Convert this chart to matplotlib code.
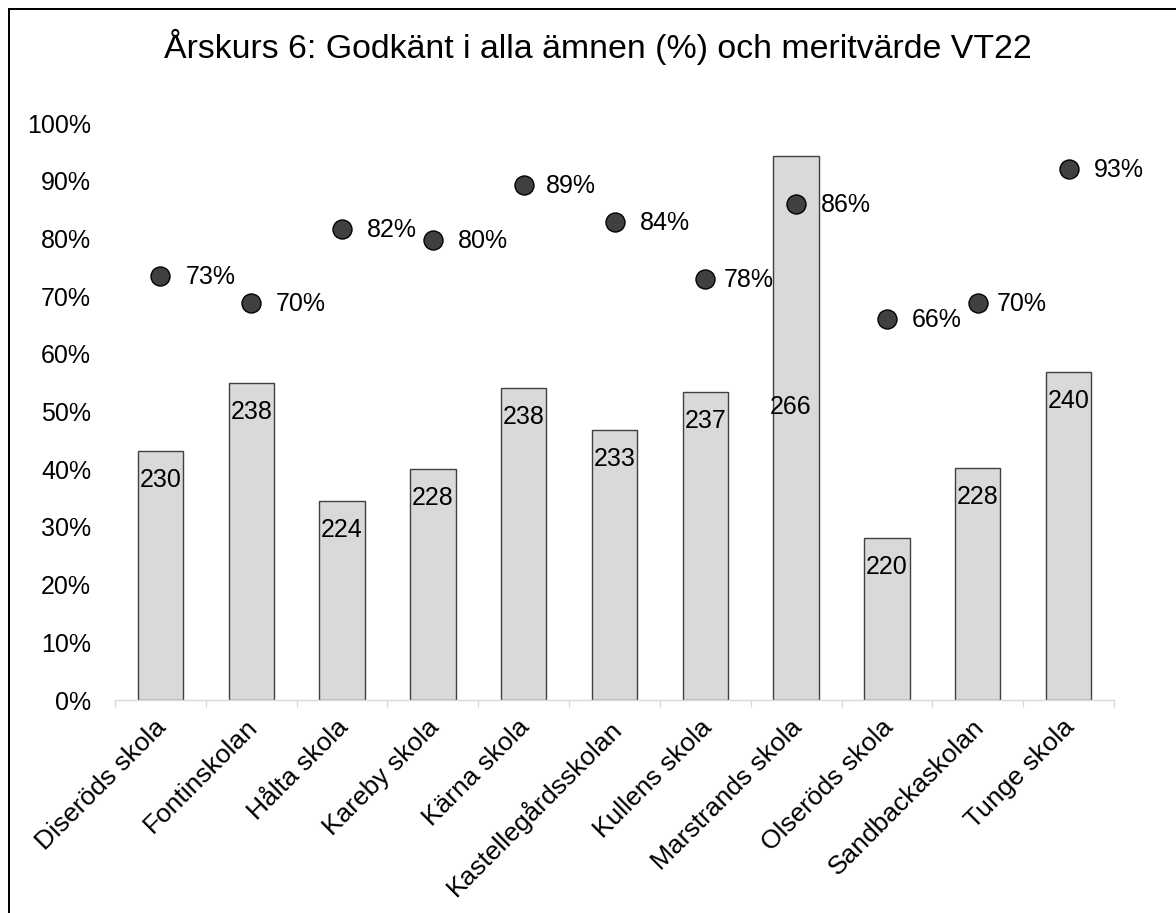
import matplotlib
matplotlib.use("Agg")
import matplotlib.pyplot as plt
import matplotlib.transforms as mtransforms
import numpy as np
from matplotlib.patches import Rectangle
from matplotlib.ticker import FuncFormatter, FixedLocator

# ---- data ----
schools = ["Diseröds skola", "Fontinskolan", "Hålta skola", "Kareby skola", "Kärna skola",
           "Kastellegårdsskolan", "Kullens skola", "Marstrands skola", "Olseröds skola",
           "Sandbackaskolan", "Tunge skola"]
merit = [230.2, 238.4, 224.1, 228.0, 237.9, 232.8, 237.4, 266.0, 219.7, 228.1, 239.8]
pass_pct = [73.5, 68.8, 81.6, 79.7, 89.3, 82.8, 73.0, 86.0, 66.0, 68.8, 92.0]
pass_labels = ["73%", "70%", "82%", "80%", "89%", "84%", "78%", "86%", "66%", "70%", "93%"]
title = "Årskurs 6: Godkänt i alla ämnen (%) och meritvärde VT22"
pct_ticks = [0, 10, 20, 30, 40, 50, 60, 70, 80, 90, 100]

# ---- style ----
plt.rcParams['font.family'] = ['Liberation Sans', 'DejaVu Sans']
W, H, DPI = 1176, 913, 100
fig = plt.figure(figsize=(W / DPI, H / DPI), dpi=DPI)
px = 72 / DPI  # points per pixel

left, right, bottom_px, top_px = 115, 1114, 700, 123
ax = fig.add_axes([left / W, 1 - bottom_px / H, (right - left) / W, (bottom_px - top_px) / H])
ax2 = ax.twinx()

x = np.arange(len(schools))

# bars (meritvärde) on hidden secondary axis
ax2.set_ylim(200, 270)
ax2.bar(x, np.array(merit) - 200, bottom=200, width=0.5, color="#D9D9D9",
        edgecolor="#404040", linewidth=1.0)
label_offsets_px = [-29] * len(merit)
label_offsets_px[7] = -251
label_dx_px = [0] * len(merit)
label_dx_px[7] = -6
for i, v in enumerate(merit):
    ax2.annotate(f"{round(v)}", xy=(x[i], v), xytext=(label_dx_px[i] * px, label_offsets_px[i] * px),
                 textcoords="offset points", ha="center", va="center", fontsize=18, color="black")
ax2.axis("off")

# dots (godkänt %) on primary axis, drawn above the bars
ax.set_zorder(ax2.get_zorder() + 1)
ax.patch.set_visible(False)
ax.scatter(x, pass_pct, s=(19 * px) ** 2, color="#404040", edgecolor="black", linewidth=1.0, zorder=5)
dot_dx_px = [25, 25, 25, 25, 22, 25, 18, 25, 25, 19, 25]
for i, v in enumerate(pass_pct):
    ax.annotate(pass_labels[i], xy=(x[i], v), xytext=(dot_dx_px[i] * px, -1 * px),
                textcoords="offset points", ha="left", va="center", fontsize=18, color="black")

ax.set_ylim(0, 100)
ax.set_xlim(-0.5, len(schools) - 0.5)
ax.set_yticks(pct_ticks)
ax.yaxis.set_major_formatter(FuncFormatter(lambda v, p: f"{int(v)}%"))
ax.tick_params(axis="y", length=0, pad=24 * px, labelsize=18)

ax.set_xticks(x)
ax.set_xticklabels(schools, rotation=45, ha="right", va="top", rotation_mode="anchor", fontsize=19)
ax.tick_params(axis="x", which="major", length=0, pad=15 * px)
shift = mtransforms.ScaledTranslation(-6 / DPI, 0, fig.dpi_scale_trans)
for lab in ax.get_xticklabels():
    lab.set_transform(lab.get_transform() + shift)
ax.xaxis.set_minor_locator(FixedLocator(np.arange(-0.5, len(schools), 1.0)))
ax.tick_params(axis="x", which="minor", length=7 * px, color="#D9D9D9", width=1.0)

for s in ["top", "right", "left"]:
    ax.spines[s].set_visible(False)
ax.spines["bottom"].set_color("#D9D9D9")
ax.spines["bottom"].set_linewidth(1.0)

fig.text(598 / W, 1 - 47 / H, title, ha="center", va="center", fontsize=24.4, color="black")

# chart border (left and top visible)
fig.add_artist(Rectangle((9 / W, -0.2), 1.5, 1.2 - 9 / H, transform=fig.transFigure,
                         fill=False, edgecolor="black", linewidth=2 * px))

fig.savefig("out.png", dpi=DPI)
